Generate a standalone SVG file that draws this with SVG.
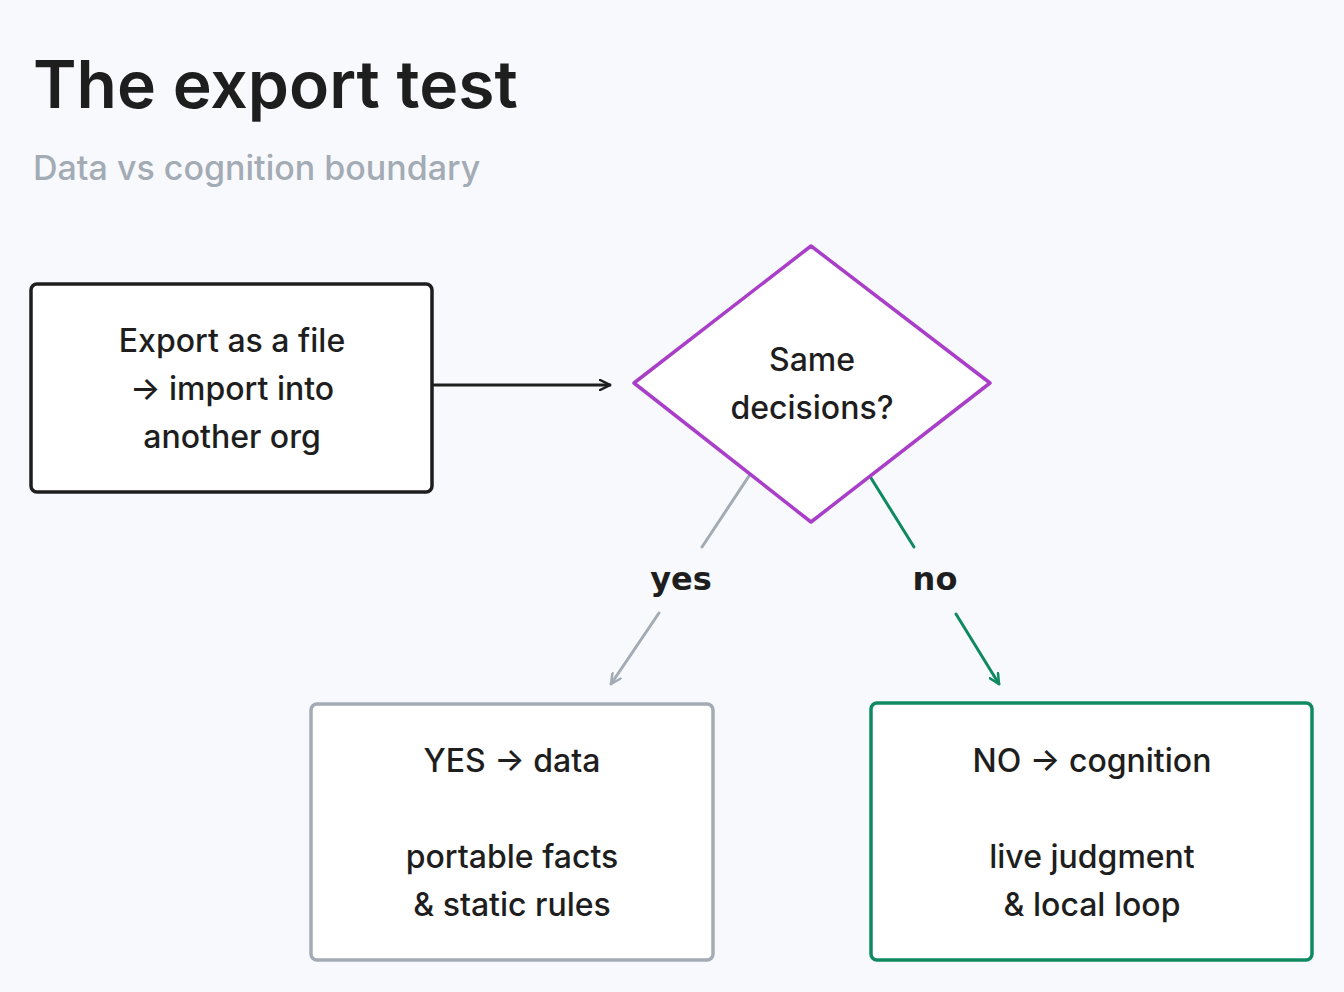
<svg xmlns="http://www.w3.org/2000/svg" width="1344" height="992" viewBox="0 0 1344 992">
<style>
text{font-family:Inter,"Noto Sans","Liberation Sans",sans-serif;fill:#1e1e1e}
.t{font-size:32px;text-anchor:middle;font-weight:500}
.lbl{font-family:"DejaVu Sans",sans-serif;font-size:32px;font-weight:bold;text-anchor:middle}
</style>
<defs>
<marker id="ab" viewBox="0 0 12 12" refX="11" refY="6" markerWidth="12" markerHeight="12" markerUnits="userSpaceOnUse" orient="auto"><path d="M1,1 L11,6 L1,11" fill="none" stroke="#1e1e1e" stroke-width="2.5" stroke-linecap="round"/></marker>
<marker id="ag" viewBox="0 0 12 12" refX="11" refY="6" markerWidth="12" markerHeight="12" markerUnits="userSpaceOnUse" orient="auto"><path d="M1,1 L11,6 L1,11" fill="none" stroke="#a3abb5" stroke-width="2.5" stroke-linecap="round"/></marker>
<marker id="an" viewBox="0 0 12 12" refX="11" refY="6" markerWidth="12" markerHeight="12" markerUnits="userSpaceOnUse" orient="auto"><path d="M1,1 L11,6 L1,11" fill="none" stroke="#0f8a60" stroke-width="2.5" stroke-linecap="round"/></marker>
</defs>
<rect width="1344" height="992" fill="#f8f9fc"/>
<text x="33" y="108" font-size="66" font-weight="600">The export test</text>
<text x="33" y="180" font-size="34" font-weight="500" style="fill:#a3abb5">Data vs cognition boundary</text>
<g id="connectors" fill="none" stroke-width="3" stroke-linecap="round">
<line x1="434" y1="385" x2="610" y2="385" stroke="#1e1e1e" marker-end="url(#ab)"/>
<line x1="749" y1="476" x2="702" y2="547" stroke="#a3abb5"/>
<line x1="659" y1="613" x2="611" y2="684" stroke="#a3abb5" marker-end="url(#ag)"/>
<line x1="871" y1="478" x2="914" y2="547" stroke="#0f8a60"/>
<line x1="956" y1="614" x2="999" y2="684" stroke="#0f8a60" marker-end="url(#an)"/>
<text class="lbl" x="681" y="590">yes</text>
<text class="lbl" x="935" y="590">no</text>
</g>
<g id="export">
<rect x="31" y="284" width="401" height="208" rx="6" fill="#fff" stroke="#1e1e1e" stroke-width="3.5"/>
<text class="t" x="232" y="352">Export as a file</text>
<text class="t" x="232" y="400">→ import into</text>
<text class="t" x="232" y="448">another org</text>
</g>
<g id="decision">
<path d="M811,246 L990,383 L811,522 L634,383 Z" fill="#fff" stroke="#a93fc9" stroke-width="3.5" stroke-linejoin="round"/>
<text class="t" x="812" y="371">Same</text>
<text class="t" x="812" y="419">decisions?</text>
</g>
<g id="yes">
<rect x="311" y="704" width="402" height="256" rx="6" fill="#fff" stroke="#a3abb5" stroke-width="3.5"/>
<text class="t" x="512" y="772">YES → data</text>
<text class="t" x="512" y="868">portable facts</text>
<text class="t" x="512" y="916">&amp; static rules</text>
</g>
<g id="no">
<rect x="871" y="703" width="441" height="257" rx="6" fill="#fff" stroke="#0f8a60" stroke-width="3.5"/>
<text class="t" x="1092" y="772">NO → cognition</text>
<text class="t" x="1092" y="868">live judgment</text>
<text class="t" x="1092" y="916">&amp; local loop</text>
</g>
</svg>
